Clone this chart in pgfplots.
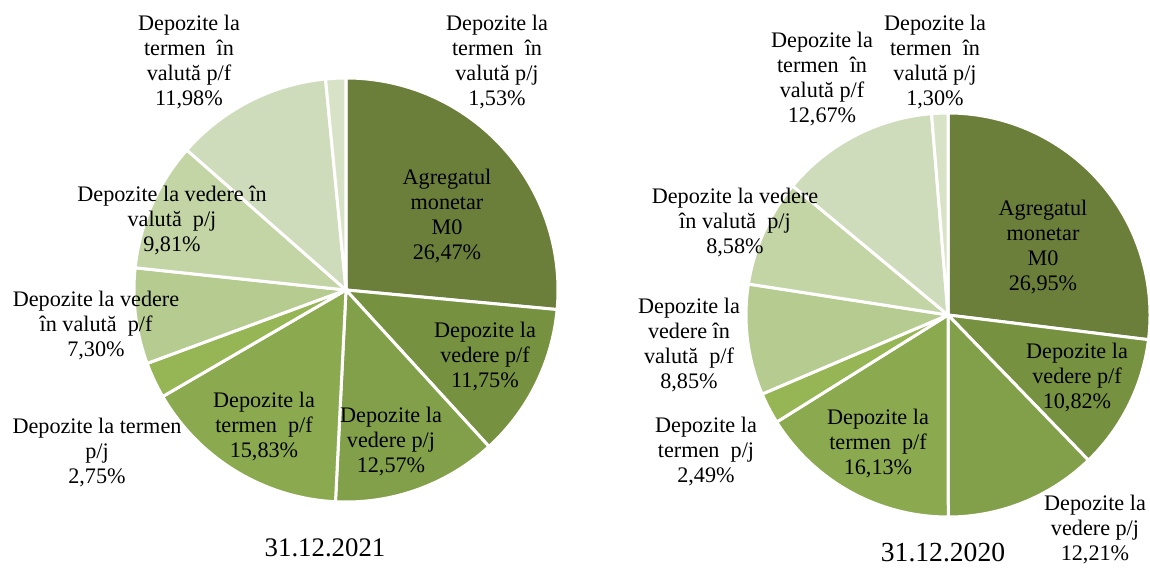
\documentclass[border=0pt]{standalone}
\usepackage{fontspec}
\setmainfont{Liberation Serif}
\usepackage{pgfplots}
\pgfplotsset{compat=1.18}
\definecolor{c1}{HTML}{6B7F3B}
\definecolor{c2}{HTML}{76913F}
\definecolor{c3}{HTML}{82A04A}
\definecolor{c4}{HTML}{8BAA50}
\definecolor{c5}{HTML}{96B655}
\definecolor{c6}{HTML}{B5CB8F}
\definecolor{c7}{HTML}{C3D5A5}
\definecolor{c8}{HTML}{CFDCBB}
\definecolor{c9}{HTML}{D7E2C6}
% values (percent), clockwise from 12 o'clock
\def\pieA{26.47/c1,11.75/c2,12.57/c3,15.83/c4,2.75/c5,7.30/c6,9.81/c7,11.98/c8,1.53/c9}
\def\pieB{26.95/c1,10.82/c2,12.21/c3,16.13/c4,2.49/c5,8.85/c6,8.58/c7,12.67/c8,1.30/c9}
\newcommand\drawpie[4]{%
  \gdef\cum{0}%
  \foreach \v/\c in #4 {%
    \pgfmathsetmacro\aS{90-3.6*\cum}%
    \pgfmathsetmacro\aE{90-3.6*(\cum+\v)}%
    \pgfmathsetmacro\nc{\cum+\v}%
    \xdef\cum{\nc}%
    \edef\tmp{\noexpand\filldraw[fill=\c,draw=white,line width=1.5pt,line join=round] (axis cs:#1,#2) -- ++(\aS:#3) arc[start angle=\aS,end angle=\aE,radius=#3] -- cycle;}%
    \tmp
  }%
}
\begin{document}
\begin{tikzpicture}
\begin{axis}[name=ax, hide axis, scale only axis, width=575pt, height=284pt,
  xmin=0, xmax=1150, ymin=0, ymax=568, clip=false]
\addplot[draw=none] coordinates {(0,0) (1150,568)};
\drawpie{346}{278}{106pt}{\pieA}
\drawpie{948}{253}{101pt}{\pieB}
\tikzset{lab/.style={align=center, inner sep=0pt, font=\fontsize{11.1}{12.5}\selectfont}}
% left pie
\node[lab] at (axis cs:447,352) {Agregatul\\monetar\\M0\\26,47\%};
\node[lab] at (axis cs:485,211) {Depozite la\\vedere p/f\\11,75\%};
\node[lab] at (axis cs:391,126) {Depozite la\\vedere p/j\\12,57\%};
\node[lab] at (axis cs:264,141) {Depozite la\\termen\ \ p/f\\15,83\%};
\node[lab] at (axis cs:97,115) {Depozite la termen\\p/j\\2,75\%};
\node[lab] at (axis cs:96,242) {Depozite la vedere\\în valută\ \ p/f\\7,30\%};
\node[lab] at (axis cs:172,348) {Depozite la vedere în\\valută\ \ p/j\\9,81\%};
\node[lab] at (axis cs:189,506) {Depozite la\\termen\ \ în\\valută p/f\\11,98\%};
\node[lab] at (axis cs:497,506) {Depozite la\\termen\ \ în\\valută p/j\\1,53\%};
\node[inner sep=0pt, font=\fontsize{13.4}{15}\selectfont] at (axis cs:325,20) {31.12.2021};
% right pie
\node[lab] at (axis cs:1043,321) {Agregatul\\monetar\\M0\\26,95\%};
\node[lab] at (axis cs:1077,190) {Depozite la\\vedere p/f\\10,82\%};
\node[lab] at (axis cs:1095,38) {Depozite la\\vedere p/j\\12,21\%};
\node[lab] at (axis cs:878,124) {Depozite la\\termen\ \ p/f\\16,13\%};
\node[lab] at (axis cs:706,116) {Depozite la\\termen\ \ p/j\\2,49\%};
\node[lab] at (axis cs:689,223) {Depozite la\\vedere în\\valută\ \ p/f\\8,85\%};
\node[lab] at (axis cs:735,345) {Depozite la vedere\\în valută\ \ p/j\\8,58\%};
\node[lab] at (axis cs:822,489) {Depozite la\\termen\ \ în\\valută p/f\\12,67\%};
\node[lab] at (axis cs:935,506) {Depozite la\\termen\ \ în\\valută p/j\\1,30\%};
\node[inner sep=0pt, font=\fontsize{13.8}{15}\selectfont] at (axis cs:943,15) {31.12.2020};
\end{axis}
\pgfresetboundingbox
\path (ax.south west) rectangle (ax.north east);
\end{tikzpicture}
\end{document}
